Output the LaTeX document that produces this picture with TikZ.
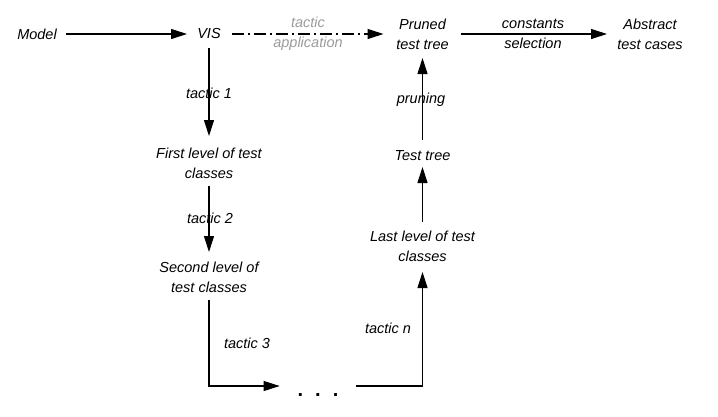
\documentclass[tikz,border=0pt]{standalone}
\usepackage{fontspec}
\setmainfont{Liberation Sans}
\usetikzlibrary{arrows.meta}
\definecolor{lbl}{RGB}{155,155,155}
\tikzset{
  txt/.style={font=\fontsize{14.5}{20}\selectfont\itshape, align=center, inner sep=0pt, outer sep=0pt},
  glbl/.style={txt, text=lbl},
  arr/.style={line width=1.1pt, -{Triangle[length=16pt,width=10pt]}},
  dashdot/.style={arr, dash pattern=on 12pt off 4pt on 2pt off 4pt}
}
\begin{document}
\begin{tikzpicture}[x=1pt,y=-1pt]
\useasboundingbox (0,0) rectangle (718,416);
% nodes
\node[txt] (model) at (37,34) {Model};
\node[txt] (vis) at (209,34) {VIS};
\node[txt] (pruned) at (422.5,34) {Pruned\\test tree};
\node[txt] (abstract) at (650,34) {Abstract\\test cases};
\node[txt] (first) at (209,163) {First level of test\\classes};
\node[txt] (second) at (209,277) {Second level of\\test classes};
\node[txt] (last) at (422.5,246) {Last level of test\\classes};
\node[txt] (testtree) at (422.5,156) {Test tree};
\node[txt, font=\fontsize{20}{20}\selectfont\bfseries, anchor=base] (dots) at (318,396) {.\hspace{12pt}.\hspace{12pt}.};
\coordinate (bl) at (209,386);
\coordinate (br) at (422.5,386);
% labels
\node[glbl] (lta) at (308,34) {tactic\\application};
\node[txt] (lcs) at (533,34) {constants\\selection};
\node[txt] (lt1) at (209,93) {tactic 1};
\node[txt] (lt2) at (210,218) {tactic 2};
\node[txt] (lt3) at (247,343) {tactic 3};
\node[txt] (ltn) at (388,328) {tactic n};
\node[txt] (lpr) at (421,100) {pruning};
% connectors
\draw[arr, shorten <=29pt, shorten >=22pt] (model.center) -- (vis.center);
\draw[dashdot, shorten <=23pt, shorten >=39pt] (vis.center) -- (pruned.center);
\draw[arr, shorten <=38pt, shorten >=43pt] (pruned.center) -- (abstract.center);
\draw[arr, shorten <=14pt, shorten >=27pt] (vis.center) -- (first.center);
\draw[arr, shorten <=23pt, shorten >=25pt] (first.center) -- (second.center);
\draw[arr, shorten <=23pt, shorten >=18pt] (second.center) -- (bl) -- (dots.west |- bl);
\draw[arr, shorten <=18pt, shorten >=26pt] (dots.east |- br) -- (br) -- (last.center);
\draw[arr, shorten <=24pt, shorten >=11pt] (last.center) -- (testtree.center);
\draw[arr, shorten <=16pt, shorten >=24pt] (testtree.center) -- (pruned.center);
\end{tikzpicture}
\end{document}
